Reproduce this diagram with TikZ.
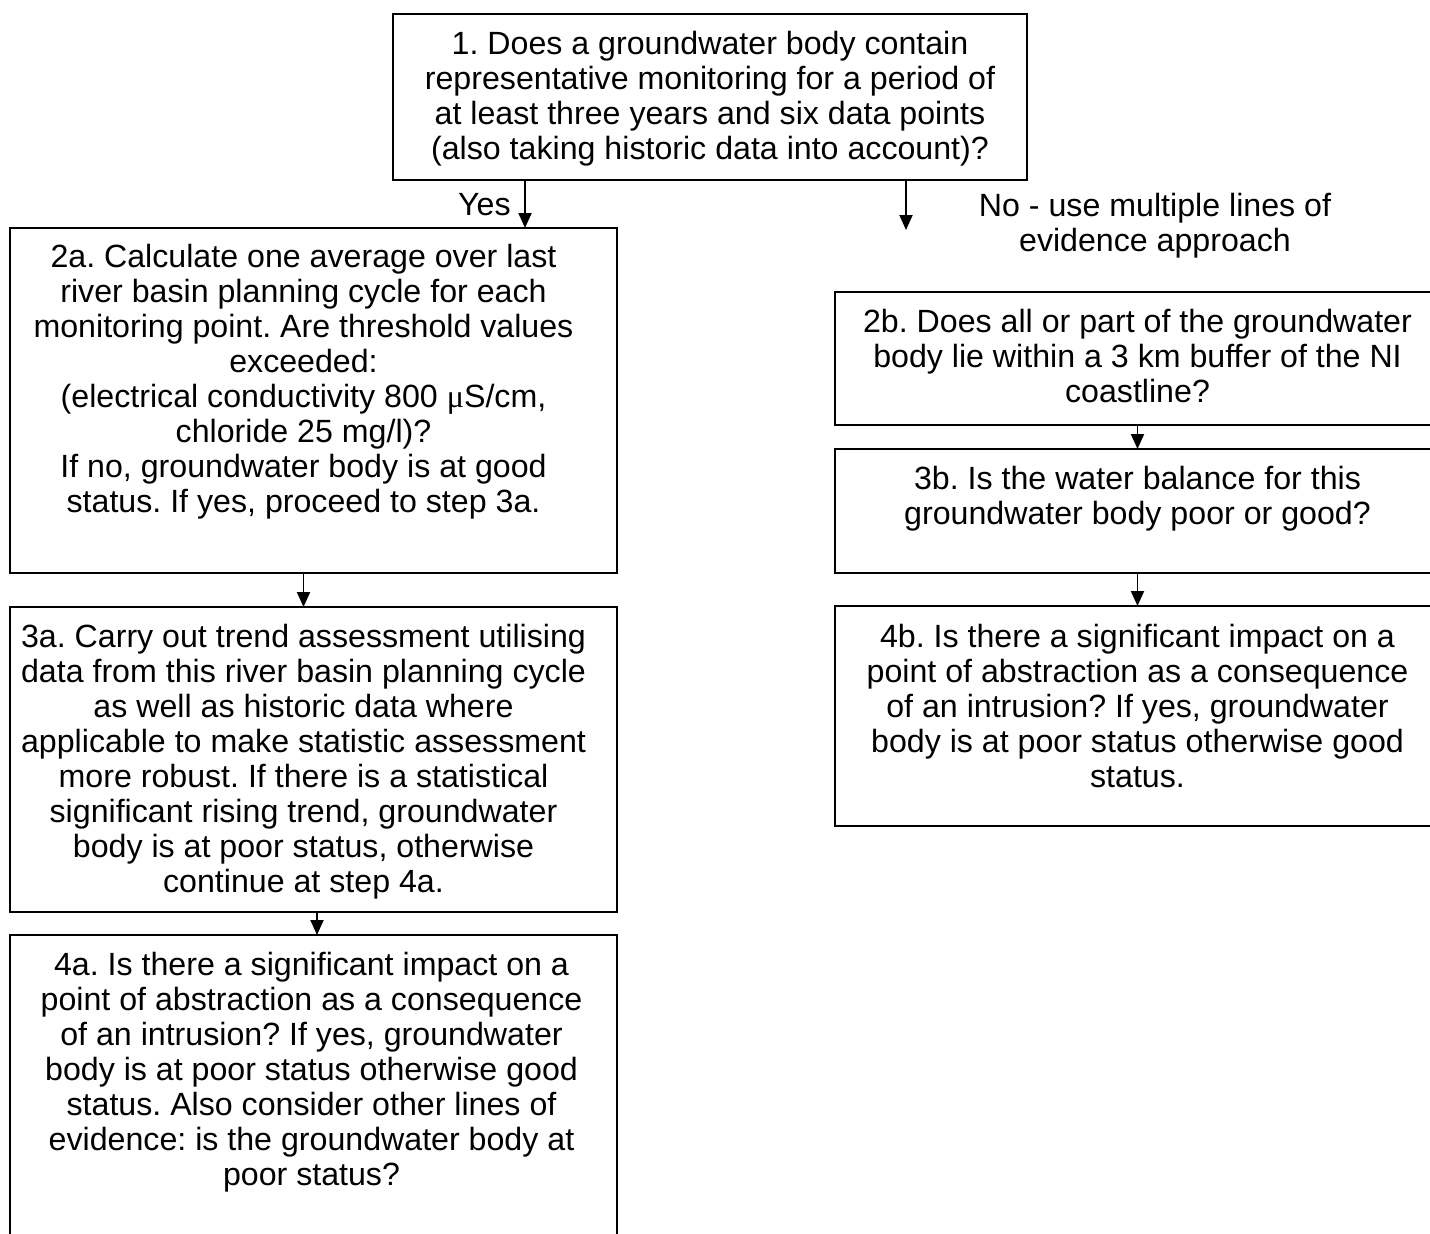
\documentclass[tikz,border=0pt]{standalone}
\usepackage{fontspec}
\setmainfont{Liberation Sans}
\newfontfamily\serifmu{Liberation Serif}
\usetikzlibrary{arrows.meta, positioning}
\frenchspacing

\begin{document}
\begin{tikzpicture}[
  qbox/.style 2 args={draw, line width=1.1pt, anchor=north west, inner sep=0pt, outer sep=0pt,
    minimum width=#1, minimum height=#2},
  qtext/.style={align=center, inner sep=0pt, font=\fontsize{18.3}{19.9}\selectfont},
  arrow/.style={-{Triangle[length=0.3cm, width=0.26cm]}, line width=1.1pt}
]
\useasboundingbox (0,0) rectangle (28.6,-24.68);
\clip (0,0) rectangle (28.6,-24.68);

\node[qbox={12.68cm}{3.32cm}] (q1) at (7.86,-0.28) {};
\node[qtext, below=0.34cm of q1.north] (t1) {1. Does a groundwater body contain\\
  representative monitoring for a period of\\
  at least three years and six data points\\
  (also taking historic data into account)?};

\node[qbox={12.14cm}{6.9cm}] (q2a) at (0.2,-4.56) {};
\node[qtext, below=0.32cm of q2a.north, xshift=-0.2cm] (t2a) {2a. Calculate one average over last\\
  river basin planning cycle for each\\
  monitoring point. Are threshold values\\
  exceeded:\\
  (electrical conductivity 800 {\serifmu μ}S/cm,\\
  chloride 25 mg/l)?\\
  If no, groundwater body is at good\\
  status. If yes, proceed to step 3a.};

\node[qbox={12.14cm}{6.1cm}] (q3a) at (0.2,-12.14) {};
\node[qtext, below=0.34cm of q3a.north, xshift=-0.2cm] (t3a) {3a. Carry out trend assessment utilising\\
  data from this river basin planning cycle\\
  as well as historic data where\\
  applicable to make statistic assessment\\
  more robust. If there is a statistical\\
  significant rising trend, groundwater\\
  body is at poor status, otherwise\\
  continue at step 4a.};

\node[qbox={12.14cm}{6.8cm}] (q4a) at (0.2,-18.7) {};
\node[qtext, below=0.34cm of q4a.north, xshift=-0.04cm] (t4a) {4a. Is there a significant impact on a\\
  point of abstraction as a consequence\\
  of an intrusion? If yes, groundwater\\
  body is at poor status otherwise good\\
  status. Also consider other lines of\\
  evidence: is the groundwater body at\\
  poor status?};

\node[qbox={12.1cm}{2.66cm}] (q2b) at (16.7,-5.84) {};
\node[qtext, below=0.34cm of q2b.north] (t2b) {2b. Does all or part of the groundwater\\
  body lie within a 3 km buffer of the NI\\
  coastline?};

\node[qbox={12.1cm}{2.48cm}] (q3b) at (16.7,-8.98) {};
\node[qtext, below=0.34cm of q3b.north] (t3b) {3b. Is the water balance for this\\
  groundwater body poor or good?};

\node[qbox={12.1cm}{4.4cm}] (q4b) at (16.7,-12.12) {};
\node[qtext, below=0.36cm of q4b.north] (t4b) {4b. Is there a significant impact on a\\
  point of abstraction as a consequence\\
  of an intrusion? If yes, groundwater\\
  body is at poor status otherwise good\\
  status.};

\node[qtext, anchor=east] (yes) at (10.22,-4.1) {Yes};
\node[qtext] (no) at (23.1,-4.51) {No - use multiple lines of\\evidence approach};

\coordinate (yesx) at (10.5,0);
\coordinate (noend) at (18.12,-4.6);

\draw[arrow] (q1.south -| yesx) -- (q2a.north -| yesx);
\draw[arrow] (q1.south -| noend) -- (noend);
\draw[arrow] ([xshift=-0.2cm]q2a.south) -- ([xshift=-0.2cm]q3a.north);
\draw[arrow] ([xshift=0.07cm]q3a.south) -- ([xshift=0.07cm]q4a.north);
\draw[arrow] (q2b.south) -- (q3b.north);
\draw[arrow] (q3b.south) -- (q4b.north);

\end{tikzpicture}
\end{document}
